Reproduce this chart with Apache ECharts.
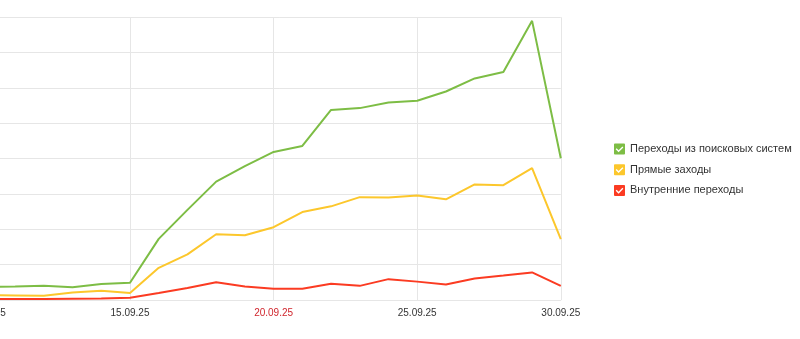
<!DOCTYPE html>
<html>
<head>
<meta charset="utf-8">
<script src="https://cdn.jsdelivr.net/npm/echarts@6/dist/echarts.min.js"></script>
<style>
html,body{margin:0;padding:0;background:#fff;}
#c{width:800px;height:339px;}
</style>
</head>
<body>
<div id="c"></div>
<script>
var categories = ['10.09.25','11.09.25','12.09.25','13.09.25','14.09.25','15.09.25','16.09.25','17.09.25','18.09.25','19.09.25','20.09.25','21.09.25','22.09.25','23.09.25','24.09.25','25.09.25','26.09.25','27.09.25','28.09.25','29.09.25','30.09.25'];
var searchTraffic = [37,38,40,36,45,49,173,255,335,379,419,436,538,543,559,564,590,627,645,790,401];
var directTraffic = [14,13,12,21,26,20,91,129,186,183,206,249,265,291,290,296,285,327,325,373,172];
var internalTraffic = [3,3,3,3.5,4,6.5,20,34,50,38,32,32,46,40,59,52,44,61,69,78,40];
var seriesNames = ['Переходы из поисковых систем','Прямые заходы','Внутренние переходы'];
var highlightLabel = '20.09.25';

var colors = ['#7dbd45','#fcc72c','#fb3b22'];
var checkIcon = 'path://M1,0 L11,0 Q12,0 12,1 L12,11 Q12,12 11,12 L1,12 Q0,12 0,11 L0,1 Q0,0 1,0 Z M1.8,6.3 L5,9.6 L10.2,4.3 L9.2,3.2 L5,7.4 L2.9,5.3 Z';
var font = '"Liberation Sans", Arial, sans-serif';

var chart = echarts.init(document.getElementById('c'), null, {renderer:'canvas'});
chart.setOption({
  animation:false,
  color: colors,
  grid:{left:-13.6, right:239.2, top:17.3, bottom:39, containLabel:false, outerBoundsMode:'none'},
  legend:{
    orient:'vertical', left:614, top:143.5,
    itemWidth:11, itemHeight:11, itemGap:9.7,
    icon: checkIcon,
    padding:0,
    textStyle:{fontSize:11, color:'#333', fontFamily:font},
    data: seriesNames
  },
  xAxis:{
    type:'category', data:categories, boundaryGap:false,
    axisLine:{show:true, lineStyle:{color:'#e6e6e6'}},
    axisTick:{show:false},
    axisLabel:{interval:4, fontSize:10, fontFamily:font, margin:8, hideOverlap:false,
      color:function(v){ return v===highlightLabel ? '#d0262d' : '#333'; }},
    splitLine:{show:true, interval:4, lineStyle:{color:'#e6e6e6'}}
  },
  yAxis:{
    type:'value', min:0, max:800, interval:100,
    axisLabel:{show:false}, axisLine:{show:false}, axisTick:{show:false},
    splitLine:{show:true, lineStyle:{color:'#e6e6e6'}}
  },
  series:[
    {name:seriesNames[0], type:'line', data:searchTraffic, symbol:'none', lineStyle:{width:2, color:colors[0]}, itemStyle:{color:colors[0]}},
    {name:seriesNames[1], type:'line', data:directTraffic, symbol:'none', lineStyle:{width:2, color:colors[1]}, itemStyle:{color:colors[1]}},
    {name:seriesNames[2], type:'line', data:internalTraffic, symbol:'none', lineStyle:{width:2, color:colors[2]}, itemStyle:{color:colors[2]}}
  ]
});
</script>
</body>
</html>
